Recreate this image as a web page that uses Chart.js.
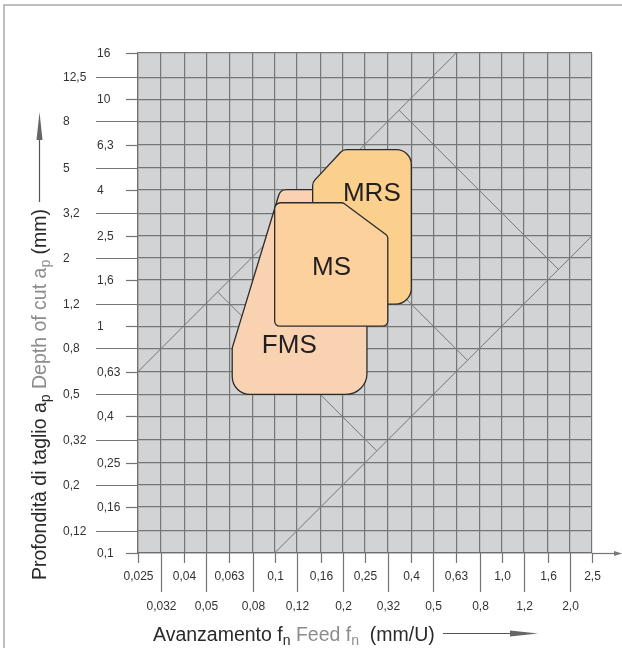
<!DOCTYPE html>
<html><head><meta charset="utf-8">
<script src="https://cdn.jsdelivr.net/npm/chart.js@4"></script>
<style>html,body{margin:0;padding:0;background:#fff}#wrap{width:622px;height:648px;position:relative}</style>
</head><body><div id="wrap"><canvas id="c" width="622" height="648"></canvas></div>
<script>
// ---- tick values & labels ----
const xTickValues = [0.025,0.0315,0.04,0.05,0.063,0.08,0.1,0.125,0.16,0.2,0.25,0.315,0.4,0.5,0.63,0.8,1.0,1.25,1.6,2.0,2.5];
const xTickLabels = ['0,025','0,032','0,04','0,05','0,063','0,08','0,1','0,12','0,16','0,2','0,25','0,32','0,4','0,5','0,63','0,8','1,0','1,2','1,6','2,0','2,5'];
const yTickValues = [0.1,0.125,0.16,0.2,0.25,0.315,0.4,0.5,0.63,0.8,1,1.25,1.6,2,2.5,3.15,4,5,6.3,8,10,12.5,16];
const yTickLabels = ['0,1','0,12','0,16','0,2','0,25','0,32','0,4','0,5','0,63','0,8','1','1,2','1,6','2','2,5','3,2','4','5','6,3','8','10','12,5','16'];

// ---- application areas (feed mm/U, depth mm) ----
const fmsFeed  = [0.065, 0.065, 0.106, 0.255, 0.255];
const fmsDepth = [0.5, 0.8, 4.0, 4.0, 0.5];
const mrsFeed  = [0.147, 0.147, 0.2, 0.4, 0.4];
const mrsDepth = [1.25, 4.3, 6.0, 6.0, 1.25];
const msFeed   = [0.1, 0.1, 0.2, 0.315, 0.315];
const msDepth  = [1.0, 3.5, 3.5, 2.5, 1.0];

// ---- guide lines ----
const guideUpperFeed = [0.025, 0.63],  guideUpperDepth = [0.63, 16];
const guideLowerFeed = [0.1, 2.5],     guideLowerDepth = [0.1, 2.5];
const crossAFeed = [0.354, 1.778],     crossADepth = [8.93, 1.778];
const crossBFeed = [0.0561, 0.2818],   crossBDepth = [1.415, 0.2818];
const crossCFeed = [0.1409, 0.707],    crossCDepth = [3.55, 0.707];

// ---- area names ----
const shapeNames = ['FMS', 'MS', 'MRS'];
const nameFeed  = [0.116, 0.178, 0.268];
const nameDepth = [0.815, 1.80, 3.85];

const toPts = (xs, ys) => xs.map((x, i) => ({x: x, y: ys[i]}));
const cornerRadii = {FMS: [18, 5, 8, 6, 21], MS: [5, 6, 4, 4, 5], MRS: [5, 8, 8, 15, 16]};
const FONT = "'Liberation Sans', Arial, Helvetica, sans-serif";

const guide = (name, xs, ys) => ({label: name, data: toPts(xs, ys), showLine: true, borderColor: '#777',
  borderWidth: 1, pointRadius: 0, fill: false, order: 10});
const shape = (name, xs, ys, col, ord) => ({label: name, isShape: true, data: toPts(xs, ys), showLine: true,
  backgroundColor: col, borderColor: '#2b2b2b', borderWidth: 1.3, pointRadius: 0, fill: false, order: ord});

function drawRich(ctx, parts, x, y) {
  let cx = x;
  parts.forEach(p => {
    ctx.font = (p.sub ? '14px ' : '19.5px ') + FONT;
    ctx.fillStyle = p.c;
    ctx.fillText(p.t, cx, y + (p.sub ? 4 : 0));
    cx += ctx.measureText(p.t).width;
  });
  return cx;
}

const decor = {
  id: 'decor',
  beforeDraw(chart) {
    const a = chart.chartArea, ctx = chart.ctx;
    ctx.save();
    ctx.fillStyle = '#d2d3d5';
    ctx.fillRect(a.left, a.top, a.right - a.left, a.bottom - a.top);
    ctx.restore();
  },
  beforeDatasetDraw(chart, args) {
    const ds = chart.data.datasets[args.index];
    if (!ds.isShape) return;
    const pts = args.meta.data.map(p => ({x: p.x, y: p.y}));
    const r = cornerRadii[ds.label];
    const ctx = chart.ctx, n = pts.length;
    ctx.save();
    ctx.beginPath();
    ctx.moveTo((pts[n - 1].x + pts[0].x) / 2, (pts[n - 1].y + pts[0].y) / 2);
    for (let i = 0; i < n; i++) {
      const p = pts[i], q = pts[(i + 1) % n];
      ctx.arcTo(p.x, p.y, q.x, q.y, r[i]);
    }
    ctx.closePath();
    ctx.fillStyle = ds.backgroundColor; ctx.fill();
    ctx.lineWidth = ds.borderWidth; ctx.strokeStyle = ds.borderColor; ctx.lineJoin = 'round';
    ctx.stroke();
    ctx.restore();
    return false;
  },
  afterDatasetsDraw(chart) {
    const ctx = chart.ctx, xs = chart.scales.x, ys = chart.scales.y;
    ctx.save();
    ctx.font = '26px ' + FONT; ctx.fillStyle = '#231f20';
    ctx.textAlign = 'center'; ctx.textBaseline = 'middle';
    shapeNames.forEach((n, i) => ctx.fillText(n, xs.getPixelForValue(nameFeed[i]), ys.getPixelForValue(nameDepth[i])));
    ctx.restore();
  },
  afterDraw(chart) {
    const ctx = chart.ctx, a = chart.chartArea, xs = chart.scales.x, ys = chart.scales.y;
    const W = chart.width;
    ctx.save();
    // frame
    ctx.strokeStyle = '#ababab'; ctx.lineWidth = 1.5;
    ctx.beginPath(); ctx.moveTo(4, chart.height); ctx.lineTo(4, 5); ctx.lineTo(W, 5); ctx.stroke();
    // ticks
    ctx.strokeStyle = '#747474'; ctx.lineWidth = 1.2;
    ctx.font = '12px ' + FONT; ctx.fillStyle = '#333'; ctx.textBaseline = 'middle';
    yTickValues.forEach((v, i) => {
      const py = Math.round(ys.getPixelForValue(v)) + 0.5;
      const long = i % 2 === 1;
      ctx.beginPath(); ctx.moveTo(a.left - (long ? 42 : 12), py); ctx.lineTo(a.left, py); ctx.stroke();
      ctx.textAlign = 'left';
      ctx.fillText(yTickLabels[i], a.left - (long ? 75 : 41), py);
    });
    xTickValues.forEach((v, i) => {
      const px = Math.round(xs.getPixelForValue(v)) + 0.5;
      const long = i % 2 === 1;
      ctx.beginPath(); ctx.moveTo(px, a.bottom); ctx.lineTo(px, a.bottom + (long ? 39 : 10)); ctx.stroke();
      ctx.textAlign = 'center';
      ctx.fillText(xTickLabels[i], px, a.bottom + (long ? 54 : 24));
    });
    // extended base line with arrow
    const by = Math.round(a.bottom) + 0.5;
    ctx.beginPath(); ctx.moveTo(a.right, by); ctx.lineTo(W - 6, by); ctx.stroke();
    ctx.fillStyle = '#777';
    ctx.beginPath(); ctx.moveTo(W, by); ctx.lineTo(W - 8, by - 2.5); ctx.lineTo(W - 8, by + 2.5); ctx.closePath(); ctx.fill();

    // x title
    ctx.textAlign = 'left'; ctx.textBaseline = 'alphabetic';
    drawRich(ctx, [
      {t: 'Avanzamento f', c: '#2a2a2a'}, {t: 'n', c: '#2a2a2a', sub: true},
      {t: ' Feed f', c: '#8c8c8c'}, {t: 'n', c: '#8c8c8c', sub: true},
      {t: '  (mm/U)', c: '#2a2a2a'}], 153, 641);
    ctx.strokeStyle = '#555'; ctx.lineWidth = 1.2; ctx.fillStyle = '#666';
    ctx.beginPath(); ctx.moveTo(443, 633.5); ctx.lineTo(515, 633.5); ctx.stroke();
    ctx.beginPath(); ctx.moveTo(538, 633.5); ctx.lineTo(510, 630.5); ctx.lineTo(510, 636.5); ctx.closePath(); ctx.fill();

    // y title
    ctx.save();
    ctx.translate(46, 580); ctx.rotate(-Math.PI / 2);
    drawRich(ctx, [
      {t: 'Profondità di taglio a', c: '#2a2a2a'}, {t: 'p', c: '#2a2a2a', sub: true},
      {t: ' Depth of cut a', c: '#8c8c8c'}, {t: 'p', c: '#8c8c8c', sub: true},
      {t: ' (mm)', c: '#2a2a2a'}], 0, 0);
    ctx.restore();
    ctx.strokeStyle = '#555'; ctx.lineWidth = 1.2; ctx.fillStyle = '#666';
    ctx.beginPath(); ctx.moveTo(39.5, 202); ctx.lineTo(39.5, 135); ctx.stroke();
    ctx.beginPath(); ctx.moveTo(39.5, 112); ctx.lineTo(36.5, 140); ctx.lineTo(42.5, 140); ctx.closePath(); ctx.fill();
    ctx.restore();
  }
};

new Chart(document.getElementById('c'), {
  type: 'scatter',
  data: {
    datasets: [
      shape('MS', msFeed, msDepth, '#fdd19e', 1),
      shape('MRS', mrsFeed, mrsDepth, '#fbd08d', 2),
      shape('FMS', fmsFeed, fmsDepth, '#f9d2b2', 3),
      guide('upper', guideUpperFeed, guideUpperDepth),
      guide('lower', guideLowerFeed, guideLowerDepth),
      guide('crossA', crossAFeed, crossADepth),
      guide('crossB', crossBFeed, crossBDepth),
      guide('crossC', crossCFeed, crossCDepth)
    ]
  },
  options: {
    responsive: false, animation: false, devicePixelRatio: 1,
    layout: {padding: {left: 138, top: 53, right: 30, bottom: 95}},
    plugins: {legend: {display: false}, tooltip: {enabled: false}},
    scales: {
      x: {type: 'logarithmic', min: 0.025, max: 2.5,
        afterBuildTicks: s => { s.ticks = xTickValues.map(v => ({value: v})); },
        ticks: {display: false},
        grid: {color: '#767676', lineWidth: 1.2, drawTicks: false},
        border: {display: true, color: '#6f6f6f', width: 1.2}},
      y: {type: 'logarithmic', min: 0.1, max: 16,
        afterBuildTicks: s => { s.ticks = yTickValues.map(v => ({value: v})); },
        ticks: {display: false},
        grid: {color: '#767676', lineWidth: 1.2, drawTicks: false},
        border: {display: true, color: '#6f6f6f', width: 1.2}}
    }
  },
  plugins: [decor]
});
</script></body></html>
